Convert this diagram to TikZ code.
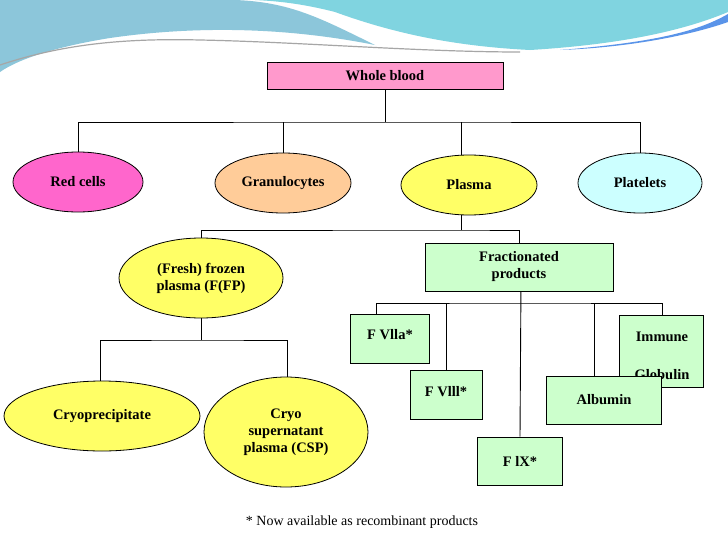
\documentclass[tikz,border=0pt]{standalone}
\usepackage{fontspec}
\setmainfont{Liberation Serif}
\usetikzlibrary{shapes.geometric}
\pgfdeclarelayer{bg}
\pgfsetlayers{bg,main}
\begin{document}
\begin{tikzpicture}[x=1pt,y=-1pt,
  every node/.style={font=\bfseries\fontsize{14.5}{17}\selectfont, align=center, inner sep=0pt},
  ell/.style={ellipse, draw, line width=0.8pt},
  box/.style={rectangle, draw, line width=0.8pt, fill=boxg},
  ln/.style={draw, line width=0.9pt}]
\definecolor{boxg}{HTML}{CCFFCC}
\definecolor{pinkb}{HTML}{FF99CC}
\definecolor{redc}{HTML}{FF66CC}
\definecolor{gran}{HTML}{FFCC99}
\definecolor{yel}{HTML}{FFFF66}
\definecolor{plat}{HTML}{CCFFFF}
\definecolor{wave1}{HTML}{8CC6DA}
\definecolor{wave2}{HTML}{80D4E0}
\useasboundingbox (0,0) rectangle (728,546);
\begin{pgfonlayer}{bg}
\fill[white] (0,0) rectangle (728,546);
\fill[wave1] (0,0) -- (235,0) .. controls (290,2) and (320,18) .. (375,45) .. controls (290,28) and (200,25) .. (110,38) .. controls (60,46) and (20,58) .. (0,72) -- cycle;
\fill[wave2] (255,0) -- (728,0) -- (728,12) .. controls (690,28) and (630,44) .. (530,50) .. controls (450,46) and (390,32) .. (335,12) .. controls (300,3) and (275,1) .. (255,0) -- cycle;
\fill[wave2!70!blue] (728,14) .. controls (700,30) and (660,42) .. (560,50) .. controls (640,47) and (700,32) .. (728,22) -- cycle;
\draw[gray!70, line width=1.2pt] (0,65) .. controls (60,45) and (120,38) .. (200,40) .. controls (300,42) and (420,52) .. (520,52);
\end{pgfonlayer}
% nodes
\node[box, fill=pinkb, minimum width=236, minimum height=27] (wb) at (385,76) {Whole blood};
\node[ell, fill=redc, minimum width=130, minimum height=60] (rc) at (78,182) {Red cells};
\node[ell, fill=gran, minimum width=136, minimum height=60] (gr) at (283,183) {Granulocytes};
\node[ell, fill=yel, minimum width=136, minimum height=60] (pl) at (469,185) {Plasma};
\node[ell, fill=plat, minimum width=124, minimum height=60] (pt) at (640,183) {Platelets};
\node[ell, fill=yel, minimum width=164, minimum height=80] (ffp) at (201,278) {(Fresh) frozen\\plasma (F(FP)};
\node[box, minimum width=188, minimum height=48] (fr) at (519,267) {Fractionated\\products};
\node[ell, fill=yel, minimum width=196, minimum height=70] (cr) at (102,416) {Cryoprecipitate};
\node[ell, fill=yel, minimum width=164, minimum height=110] (csp) at (286,432) {Cryo\\supernatant\\plasma (CSP)};
\node[box, minimum width=79, minimum height=49] (f7) at (390,339) {\raisebox{10pt}{F Vlla*}};
\node[box, minimum width=72, minimum height=49] (f8) at (446,395) {\raisebox{8pt}{F Vlll*}};
\node[box, minimum width=85, minimum height=48] (f9) at (520,461) {F lX*};
\node[box, minimum width=84, minimum height=72] (im) at (661,351) {};
\node (imt) at (662,337) {Immune};
\node (glt) at (662,375) {Globulin};
\node[box, minimum width=115, minimum height=48] (al) at (604,400) {Albumin};
\node[font=\fontsize{14}{16}\selectfont] (fn) at (362,522) {* Now available as recombinant products};
% connectors
\begin{pgfonlayer}{bg}
\coordinate (h1) at (385,122);
\draw[ln] (wb.south) -- (h1);
\draw[ln] (rc.north) |- (h1) -| (pt.north);
\draw[ln] (gr.north) -- (gr.north |- h1);
\draw[ln] (461,122) -- (461,160);
\coordinate (h2) at (461,230);
\draw[ln] (461,210) -- (h2);
\draw[ln] (ffp.north) |- (h2) -| (fr.north);
\coordinate (h3) at (521,303);
\draw[ln] (521,280) -- (f9.north);
\draw[ln] (376,320) |- (h3) -| (662,320);
\draw[ln] (f8.north) -- (f8.north |- h3);
\draw[ln] (594,303) -- (594,380);
\coordinate (h4) at (201,340);
\draw[ln] (ffp.south) -- (h4);
\draw[ln] (100,385) |- (h4) -| (287,380);
\end{pgfonlayer}
\end{tikzpicture}
\end{document}
